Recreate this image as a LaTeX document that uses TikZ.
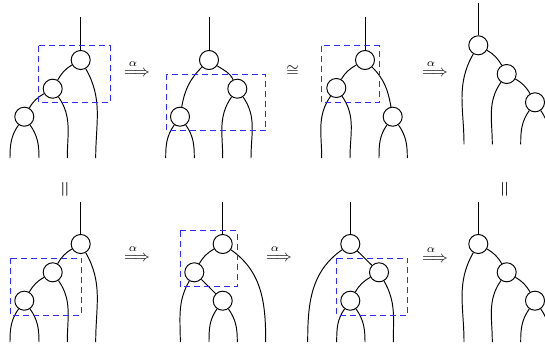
\documentclass[tikz,border=0pt]{standalone}
\usepackage{amsmath}
\definecolor{selblue}{RGB}{45,45,255}
\begin{document}
\begin{tikzpicture}[x=0.625pt,y=0.625pt,
  vtx/.style={circle,draw,fill=white,minimum size=11.9pt,inner sep=0pt,line width=0.6pt},
  wire/.style={line width=0.6pt},
  selbox/.style={draw=selblue,dash pattern=on 3.75pt off 2.5pt,line width=0.6pt},
  op/.style={inner sep=0pt},
  arr/.style={inner sep=0pt,anchor=base}]
\useasboundingbox (0,0) rectangle (545,-345);
\clip (0,0) rectangle (545,-345);

% ---------- Diagram A (top left)
\coordinate (a0) at (80.7,-17);
\node[vtx] (a1) at (80.7,-60) {};
\node[vtx] (a2) at (52.7,-88.7) {};
\node[vtx] (a3) at (24.3,-116.7) {};
\coordinate (al1) at (10,-158);
\coordinate (al2) at (39,-158);
\coordinate (al3) at (67.3,-158);
\coordinate (al4) at (95.7,-158);
\draw[wire] (a0) -- (a1);
\draw[wire] (a1) to[out=210,in=60] (a2);
\draw[wire] (a2) to[out=210,in=60] (a3);
\draw[wire] (a3) to[out=-125,in=90] (al1);
\draw[wire] (a3) to[out=-55,in=90] (al2);
\draw[wire] (a2) to[out=-55,in=90] (al3);
\draw[wire] (a1) to[out=-60,in=90] (al4);
\draw[selbox] (38.3,-45.7) rectangle (110,-102.3);

\node[arr] (r1) at (137,-76) {$\overset{\alpha\kern5pt}{\Longrightarrow}$};

% ---------- Diagram B
\coordinate (b0) at (209,-17);
\node[vtx] (b1) at (209,-60) {};
\node[vtx] (bL) at (180,-116.7) {};
\node[vtx] (bR) at (237.3,-88.7) {};
\coordinate (bl1) at (165.7,-158);
\coordinate (bl2) at (194.3,-158);
\coordinate (bl3) at (222.7,-158);
\coordinate (bl4) at (251,-158);
\draw[wire] (b0) -- (b1);
\draw[wire] (b1) to[out=225,in=80] (bL);
\draw[wire] (b1) to[out=-35,in=115] (bR);
\draw[wire] (bL) to[out=-125,in=90] (bl1);
\draw[wire] (bL) to[out=-55,in=90] (bl2);
\draw[wire] (bR) to[out=-125,in=90] (bl3);
\draw[wire] (bR) to[out=-55,in=90] (bl4);
\draw[selbox] (166,-74.3) rectangle (265.7,-130.7);

\node[op] (cong) at (292.7,-71) {$\cong$};

% ---------- Diagram C
\coordinate (c0) at (365,-17);
\node[vtx] (c1) at (365,-60) {};
\node[vtx] (cL) at (336.3,-88) {};
\node[vtx] (cR) at (392.7,-116.7) {};
\coordinate (cl1) at (321.7,-158);
\coordinate (cl2) at (350,-158);
\coordinate (cl3) at (379,-158);
\coordinate (cl4) at (407.3,-158);
\draw[wire] (c0) -- (c1);
\draw[wire] (c1) to[out=210,in=60] (cL);
\draw[wire] (c1) to[out=-45,in=100] (cR);
\draw[wire] (cL) to[out=-125,in=90] (cl1);
\draw[wire] (cL) to[out=-55,in=90] (cl2);
\draw[wire] (cR) to[out=-125,in=90] (cl3);
\draw[wire] (cR) to[out=-55,in=90] (cl4);
\draw[selbox] (321.7,-45.7) rectangle (379.3,-102.3);

\node[arr] (r3) at (435,-76) {$\overset{\alpha\kern5pt}{\Longrightarrow}$};

% ---------- Diagram D (top right)
\coordinate (d0) at (478.3,-3.3);
\node[vtx] (d1) at (478.3,-45.3) {};
\node[vtx] (d2) at (506.7,-74) {};
\node[vtx] (d3) at (535,-102.3) {};
\coordinate (dl1) at (464,-144.3);
\coordinate (dl2) at (492.3,-144.3);
\coordinate (dl3) at (520.7,-144.3);
\coordinate (dl4) at (549,-144.3);
\draw[wire] (d0) -- (d1);
\draw[wire] (d1) to[out=-120,in=90] (dl1);
\draw[wire] (d1) to[out=-30,in=120] (d2);
\draw[wire] (d2) to[out=-125,in=90] (dl2);
\draw[wire] (d2) to[out=-30,in=120] (d3);
\draw[wire] (d3) to[out=-125,in=90] (dl3);
\draw[wire] (d3) to[out=-55,in=90] (dl4);

% ---------- equalities
\node[op,rotate=90,scale=1.3] (eqL) at (66.3,-189.5) {$=$};
\node[op,rotate=90,scale=1.3] (eqR) at (506,-189.5) {$=$};

% ---------- Diagram E (bottom left)
\coordinate (e0) at (80.7,-202);
\node[vtx] (e1) at (80.7,-244) {};
\node[vtx] (e2) at (52.7,-272.3) {};
\node[vtx] (e3) at (24.3,-300.7) {};
\coordinate (el1) at (10,-342);
\coordinate (el2) at (39,-342);
\coordinate (el3) at (67.3,-342);
\coordinate (el4) at (95.7,-342);
\draw[wire] (e0) -- (e1);
\draw[wire] (e1) to[out=210,in=60] (e2);
\draw[wire] (e2) to[out=210,in=60] (e3);
\draw[wire] (e3) to[out=-125,in=90] (el1);
\draw[wire] (e3) to[out=-55,in=90] (el2);
\draw[wire] (e2) to[out=-55,in=90] (el3);
\draw[wire] (e1) to[out=-60,in=90] (el4);
\draw[selbox] (10,-258.3) rectangle (81.7,-315);

\node[arr] (r5) at (137,-261) {$\overset{\alpha\kern5pt}{\Longrightarrow}$};

% ---------- Diagram F
\coordinate (f0) at (222.7,-202);
\node[vtx] (f1) at (222.7,-244) {};
\node[vtx] (fL) at (194.3,-272.3) {};
\node[vtx] (fR) at (222.7,-300.7) {};
\coordinate (fl1) at (180.3,-342);
\coordinate (fl2) at (209,-342);
\coordinate (fl3) at (237.3,-342);
\coordinate (fl4) at (265.7,-342);
\draw[wire] (f0) -- (f1);
\draw[wire] (f1) to[out=210,in=60] (fL);
\draw[wire] (f1) to[out=-35,in=90] (fl4);
\draw[wire] (fL) -- (fR);
\draw[wire] (fL) to[out=-120,in=90] (fl1);
\draw[wire] (fR) to[out=-125,in=90] (fl2);
\draw[wire] (fR) to[out=-55,in=90] (fl3);
\draw[selbox] (180.3,-230.7) rectangle (237.3,-286.7);

\node[arr] (r6) at (279,-261) {$\overset{\alpha\kern5pt}{\Longrightarrow}$};

% ---------- Diagram G
\coordinate (g0) at (350.3,-202);
\node[vtx] (g1) at (350.3,-244) {};
\node[vtx] (g2) at (379,-272.3) {};
\node[vtx] (g3) at (350.3,-300.7) {};
\coordinate (gl1) at (307.7,-342);
\coordinate (gl2) at (336.7,-342);
\coordinate (gl3) at (365,-342);
\coordinate (gl4) at (393.3,-342);
\draw[wire] (g0) -- (g1);
\draw[wire] (g1) to[out=215,in=90] (gl1);
\draw[wire] (g1) -- (g2);
\draw[wire] (g2) to[out=210,in=60] (g3);
\draw[wire] (g2) to[out=-60,in=90] (gl4);
\draw[wire] (g3) to[out=-125,in=90] (gl2);
\draw[wire] (g3) to[out=-55,in=90] (gl3);
\draw[selbox] (336.3,-258.3) rectangle (407.7,-315);

\node[arr] (r7) at (435,-262) {$\overset{\alpha\kern5pt}{\Longrightarrow}$};

% ---------- Diagram H (bottom right)
\coordinate (h0) at (478.3,-202);
\node[vtx] (h1) at (478.3,-244) {};
\node[vtx] (h2) at (506.7,-272.3) {};
\node[vtx] (h3) at (535,-300.7) {};
\coordinate (hl1) at (464,-342);
\coordinate (hl2) at (492.3,-342);
\coordinate (hl3) at (520.7,-342);
\coordinate (hl4) at (549,-342);
\draw[wire] (h0) -- (h1);
\draw[wire] (h1) to[out=-120,in=90] (hl1);
\draw[wire] (h1) to[out=-30,in=120] (h2);
\draw[wire] (h2) to[out=-125,in=90] (hl2);
\draw[wire] (h2) to[out=-30,in=120] (h3);
\draw[wire] (h3) to[out=-125,in=90] (hl3);
\draw[wire] (h3) to[out=-55,in=90] (hl4);
\end{tikzpicture}
\end{document}
